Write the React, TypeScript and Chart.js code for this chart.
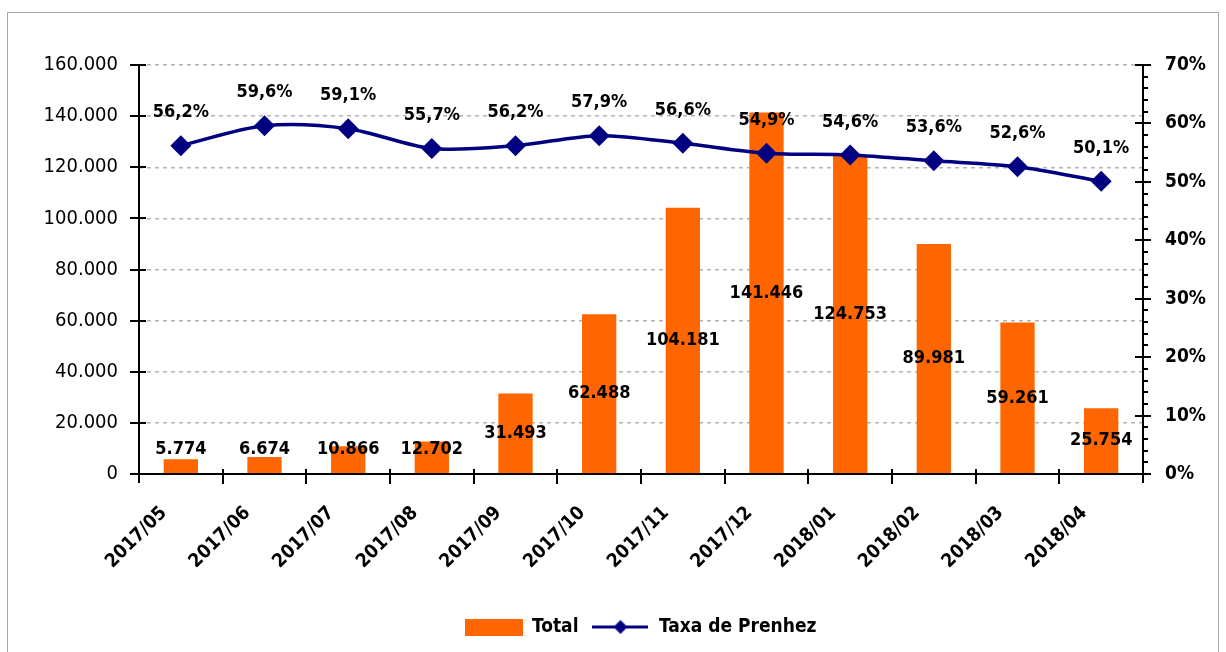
import React, { useEffect, useRef } from 'react';
import { Chart, registerables } from 'chart.js';

Chart.register(...registerables);

const categories = ['2017/05', '2017/06', '2017/07', '2017/08', '2017/09', '2017/10', '2017/11', '2017/12', '2018/01', '2018/02', '2018/03', '2018/04'];
const totals = [5774, 6674, 10866, 12702, 31493, 62488, 104181, 141446, 124753, 89981, 59261, 25754];
const taxaPrenhez = [56.2, 59.6, 59.1, 55.7, 56.2, 57.9, 56.6, 54.9, 54.6, 53.6, 52.6, 50.1];
const leftTickValues = [0, 20000, 40000, 60000, 80000, 100000, 120000, 140000, 160000];
const rightTickValues = [0, 10, 20, 30, 40, 50, 60, 70];
const rightMinorStep = 2;

const ORANGE = '#FF6600';
const NAVY = '#000080';
const FONT = "'DejaVu Sans Condensed', 'DejaVu Sans', sans-serif";

const fmtThousands = (n: number) => String(Math.round(n)).replace(/\B(?=(\d{3})+(?!\d))/g, '.');
const fmtPct = (v: number) => v.toFixed(1).replace('.', ',') + '%';

const borderPlugin = {
  id: 'outerBorder',
  beforeDraw(chart: any) {
    const ctx = chart.ctx;
    ctx.save();
    ctx.fillStyle = '#ffffff';
    ctx.fillRect(0, 0, chart.width, chart.height);
    ctx.strokeStyle = '#a6a6a6';
    ctx.lineWidth = 1;
    ctx.strokeRect(7.5, 12.5, chart.width - 15, chart.height);
    ctx.restore();
  },
};

const axesPlugin = {
  id: 'excelAxes',
  afterDatasetsDraw(chart: any) {
    const ctx = chart.ctx;
    const { left, right, top, bottom } = chart.chartArea;
    const yL = chart.scales.y;
    const yR = chart.scales.y1;
    ctx.save();
    ctx.strokeStyle = '#000';
    ctx.lineWidth = 2;
    ctx.beginPath();
    ctx.moveTo(left, top);
    ctx.lineTo(left, bottom + 9);
    leftTickValues.forEach((v) => {
      const py = Math.round(yL.getPixelForValue(v));
      ctx.moveTo(left - 9, py);
      ctx.lineTo(left + 7, py);
    });
    ctx.moveTo(left - 9, bottom);
    ctx.lineTo(right + 8, bottom);
    const n = categories.length;
    const step = (right - left) / n;
    for (let i = 1; i < n; i++) {
      const px = Math.round(left + i * step);
      ctx.moveTo(px, bottom - 5);
      ctx.lineTo(px, bottom + 10);
    }
    ctx.moveTo(right, top);
    ctx.lineTo(right, bottom + 9);
    rightTickValues.forEach((v) => {
      const py = Math.round(yR.getPixelForValue(v));
      ctx.moveTo(right - 8, py);
      ctx.lineTo(right + 8, py);
    });
    for (let v = 0; v <= 70; v += rightMinorStep) {
      const py = Math.round(yR.getPixelForValue(v));
      ctx.moveTo(right, py);
      ctx.lineTo(right + 5, py);
    }
    ctx.stroke();
    ctx.restore();
  },
};

const labelsPlugin = {
  id: 'dataLabels',
  afterDraw(chart: any) {
    const ctx = chart.ctx;
    ctx.save();
    ctx.font = `bold 18px ${FONT}`;
    ctx.fillStyle = '#000';
    ctx.textAlign = 'center';
    ctx.textBaseline = 'middle';
    const barMeta = chart.getDatasetMeta(1);
    barMeta.data.forEach((el: any, i: number) => {
      const cy = Math.min((el.y + el.base) / 2, el.base - 24);
      ctx.fillText(fmtThousands(totals[i]), el.x, cy);
    });
    const lineMeta = chart.getDatasetMeta(0);
    lineMeta.data.forEach((el: any, i: number) => {
      ctx.fillText(fmtPct(taxaPrenhez[i]), el.x, el.y - 33);
    });
    ctx.restore();
  },
};

export default function App() {
  const ref = useRef<HTMLCanvasElement | null>(null);

  useEffect(() => {
    if (!ref.current) return;

    const barIcon = document.createElement('canvas');
    barIcon.width = 58;
    barIcon.height = 17;
    const bctx = barIcon.getContext('2d')!;
    bctx.fillStyle = ORANGE;
    bctx.fillRect(0, 0, 58, 17);

    const lineIcon = document.createElement('canvas');
    lineIcon.width = 56;
    lineIcon.height = 17;
    const lctx = lineIcon.getContext('2d')!;
    lctx.strokeStyle = NAVY;
    lctx.lineWidth = 3;
    lctx.beginPath();
    lctx.moveTo(0, 8.5);
    lctx.lineTo(56, 8.5);
    lctx.stroke();
    lctx.fillStyle = NAVY;
    lctx.beginPath();
    lctx.moveTo(28 - 7, 8.5);
    lctx.lineTo(28, 1.5);
    lctx.lineTo(28 + 7, 8.5);
    lctx.lineTo(28, 15.5);
    lctx.closePath();
    lctx.fill();

    const chart = new Chart(ref.current, {
      type: 'bar',
      data: {
        labels: categories,
        datasets: [
          {
            type: 'line',
            label: 'Taxa de Prenhez',
            data: taxaPrenhez,
            yAxisID: 'y1',
            borderColor: NAVY,
            backgroundColor: NAVY,
            borderWidth: 3.5,
            tension: 0.3,
            pointStyle: 'rectRot',
            pointRadius: 10.5,
            pointBorderWidth: 0,
            pointBackgroundColor: NAVY,
            order: 0,
          } as any,
          {
            type: 'bar',
            label: 'Total',
            data: totals,
            yAxisID: 'y',
            backgroundColor: ORANGE,
            borderWidth: 0,
            barPercentage: 0.41,
            categoryPercentage: 1,
            order: 1,
          },
        ],
      },
      options: {
        animation: false,
        responsive: false,
        maintainAspectRatio: false,
        layout: { padding: { top: 65, left: 0, right: -55, bottom: 5.5 } },
        plugins: {
          tooltip: { enabled: false },
          legend: {
            position: 'bottom',
            labels: {
              usePointStyle: true,
              pointStyleWidth: 58,
              boxHeight: 17,
              padding: 13,
              color: '#000',
              font: { family: FONT, size: 19, weight: 'bold' },
              generateLabels: () => [
                { text: 'Total', pointStyle: barIcon, fillStyle: ORANGE, strokeStyle: ORANGE, lineWidth: 0, hidden: false, datasetIndex: 1, fontColor: '#000' },
                { text: 'Taxa de Prenhez', pointStyle: lineIcon, fillStyle: NAVY, strokeStyle: NAVY, lineWidth: 0, hidden: false, datasetIndex: 0, fontColor: '#000' },
              ] as any,
            },
          },
        },
        scales: {
          x: {
            grid: { display: false, drawTicks: false },
            border: { display: false },
            ticks: {
              autoSkip: false,
              minRotation: 45,
              maxRotation: 45,
              labelOffset: -17,
              padding: 28,
              color: '#000',
              font: { family: FONT, size: 19, weight: 'bold' },
            },
            afterFit: (scale: any) => { scale.height = 130.5; },
          },
          y: {
            position: 'left',
            min: 0,
            max: 160000,
            afterBuildTicks: (scale: any) => { scale.ticks = leftTickValues.map((v) => ({ value: v })); },
            grid: { color: '#b3b3b3', lineWidth: 1.5, drawTicks: false },
            border: { display: false, dash: [4, 4] },
            ticks: {
              padding: 21,
              color: '#000',
              font: { family: FONT, size: 20 },
              callback: (v: any) => fmtThousands(Number(v)),
            },
            afterFit: (scale: any) => { scale.width = 139; },
          },
          y1: {
            position: 'right',
            min: 0,
            max: 70,
            afterBuildTicks: (scale: any) => { scale.ticks = rightTickValues.map((v) => ({ value: v })); },
            grid: { display: false, drawTicks: false },
            border: { display: false },
            ticks: {
              padding: 22,
              color: '#000',
              font: { family: FONT, size: 19, weight: 'bold' },
              callback: (v: any) => `${v}%`,
            },
            afterFit: (scale: any) => { scale.width = 138; },
          },
        },
      },
      plugins: [borderPlugin, axesPlugin, labelsPlugin],
    });
    return () => chart.destroy();
  }, []);

  return (
    <div style={{ position: 'absolute', left: 0, top: 0, width: 1226, height: 652, overflow: 'hidden' }}>
      <canvas ref={ref} width={1226} height={652} style={{ display: 'block', width: 1226, height: 652 }} />
    </div>
  );
}
